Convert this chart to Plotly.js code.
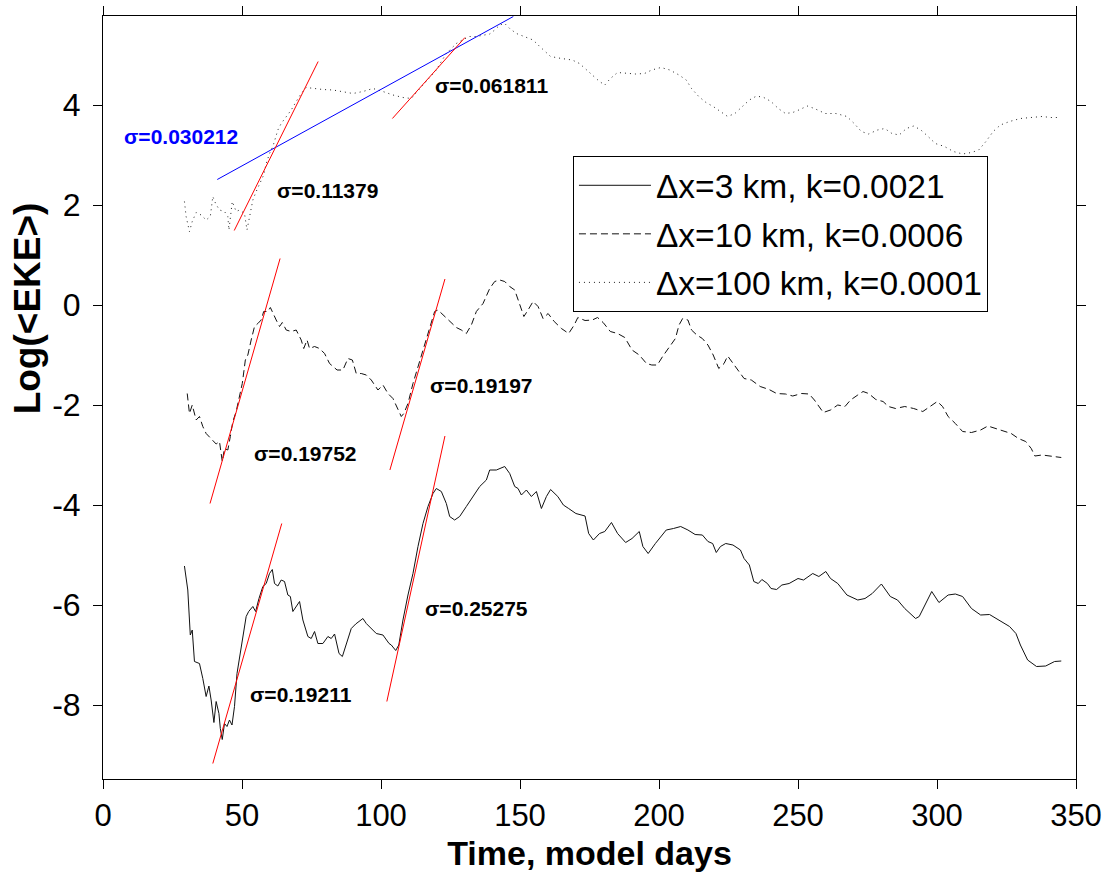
<!DOCTYPE html>
<html>
<head>
<meta charset="utf-8">
<script src="https://cdn.plot.ly/plotly-3.0.1.min.js"></script>
<style>html,body{margin:0;padding:0;background:#fff;}#chart{width:1106px;height:874px;}</style>
</head>
<body>
<div id="chart"></div>
<script>
// ---- data ----
const seriesNames = ['\u0394x=3 km, k=0.0021', '\u0394x=10 km, k=0.0006', '\u0394x=100 km, k=0.0001'];

const x3 = [29.3,30.5,31.4,32.1,32.9,34.7,35.9,37.1,38.1,38.9,39.9,40.7,41.7,42.2,42.9,43.7,44.6,45.5,46.4,47.3,48.2,49.7,51.5,52.4,53.9,54.9,56.1,57.5,58.7,59.9,60.9,61.7,62.9,64.1,65.3,66.5,67.4,68.3,69.5,70.7,71.9,73.7,74.9,76.1,77.3,79.1,80.9,82.1,83.3,84.9,86.1,87.5,89.3,90.9,92.1,93.5,94.7,96.5,98.3,100.7,102.9,103.7,105.3,106.4,107.9,109.7,111.5,113.3,115.1,116.9,118.7,119.9,121.7,123.5,124.7,126.5,128.3,130.7,133.1,135.5,137.9,139.1,141.5,144.5,146.3,148.1,149.3,150.5,152.3,154.1,155.9,157.7,159.5,161.0,163.6,165.6,167.5,170.1,173.4,174.7,176.4,178.6,180.5,182.9,185.1,188.0,190.3,192.9,194.2,196.1,198.7,202.6,205.2,207.8,210.4,213.0,215.6,217.6,219.3,220.6,222.1,224.0,226.6,229.3,230.6,232.5,234.1,235.7,237.0,239.0,240.3,242.3,244.2,246.8,250.0,252.0,255.3,257.5,260.0,261.7,264.3,267.6,271.5,274.1,276.7,280.0,283.2,285.8,288.4,290.3,292.3,293.6,296.2,298.1,300.7,304.0,306.6,309.2,312.4,315.7,318.9,322.2,326.1,328.4,330.0,332.6,335.8,339.1,342.3,344.7];
const y3 = [-5.22,-5.70,-6.60,-6.50,-7.13,-7.17,-7.47,-7.83,-7.62,-7.90,-8.35,-7.93,-8.17,-8.47,-8.69,-8.37,-8.43,-8.30,-8.40,-8.03,-7.37,-6.83,-6.23,-6.13,-6.03,-6.13,-5.87,-5.63,-5.57,-5.37,-5.29,-5.57,-5.62,-5.50,-5.53,-5.80,-5.83,-6.13,-6.03,-5.93,-6.30,-6.63,-6.67,-6.53,-6.77,-6.77,-6.63,-6.67,-6.58,-6.97,-7.03,-6.80,-6.47,-6.38,-6.33,-6.27,-6.37,-6.47,-6.57,-6.60,-6.77,-6.80,-6.91,-6.80,-6.30,-5.80,-5.37,-4.83,-4.37,-4.03,-3.77,-3.67,-3.73,-3.97,-4.23,-4.30,-4.23,-4.03,-3.83,-3.63,-3.50,-3.30,-3.30,-3.23,-3.37,-3.63,-3.67,-3.80,-3.70,-3.83,-3.73,-4.07,-3.83,-3.69,-3.83,-4.00,-4.07,-4.17,-4.22,-4.57,-4.70,-4.57,-4.53,-4.35,-4.57,-4.75,-4.67,-4.53,-4.83,-4.97,-4.77,-4.50,-4.47,-4.43,-4.50,-4.59,-4.60,-4.73,-4.77,-4.95,-4.83,-4.77,-4.80,-4.90,-5.07,-5.20,-5.53,-5.57,-5.49,-5.57,-5.67,-5.69,-5.60,-5.57,-5.47,-5.50,-5.37,-5.43,-5.33,-5.47,-5.57,-5.80,-5.90,-5.87,-5.77,-5.58,-5.83,-5.90,-6.07,-6.17,-6.27,-6.23,-5.93,-5.73,-5.95,-5.80,-5.78,-5.83,-6.07,-6.20,-6.19,-6.30,-6.43,-6.57,-6.80,-7.10,-7.23,-7.22,-7.13,-7.12];

const x10 = [30.3,31.1,32.1,33.5,34.7,35.9,37.1,38.9,40.7,41.9,42.9,43.7,44.9,45.8,46.7,47.9,48.9,50.1,51.2,52.1,53.3,54.5,55.7,56.9,57.8,59.3,60.2,61.1,62.3,63.5,64.5,65.9,67.7,69.5,71.3,72.2,73.4,74.3,76.1,77.9,79.7,81.5,84.2,86.3,88.1,89.7,91.1,92.9,94.7,96.5,98.9,100.7,102.5,104.3,106.1,107.3,108.2,109.7,111.5,113.3,114.5,116.3,118.1,119.3,120.5,122.3,124.1,125.9,127.1,128.9,130.7,132.5,134.3,136.7,139.1,140.9,142.7,144.5,146.3,148.1,149.9,151.4,152.9,154.7,156.5,158.3,160.1,162.3,164.9,167.5,169.5,170.8,173.4,176.0,177.9,179.9,182.5,185.1,187.7,190.3,192.9,195.5,197.4,199.4,201.3,203.3,205.9,207.2,208.5,210.4,211.7,213.6,215.6,217.6,219.5,221.5,223.4,224.7,226.6,228.6,230.6,233.2,236.4,239.6,242.3,245.5,248.1,251.3,254.0,255.9,259.1,261.7,264.3,266.9,268.9,271.5,273.4,275.4,278.0,280.6,282.5,285.1,288.4,291.6,294.9,297.5,300.1,302.0,304.0,306.6,309.2,312.4,315.7,318.3,320.9,324.1,326.7,329.3,331.9,333.9,335.2,337.8,340.4,342.3,344.7];
const y10 = [-1.77,-2.17,-2.00,-2.30,-2.23,-2.43,-2.57,-2.67,-2.78,-2.73,-3.13,-2.87,-2.90,-2.63,-2.33,-2.13,-1.87,-1.57,-1.10,-1.00,-0.70,-0.43,-0.37,-0.30,-0.13,-0.13,-0.05,-0.17,-0.30,-0.43,-0.35,-0.50,-0.53,-0.50,-0.70,-0.87,-0.70,-0.87,-0.83,-0.87,-0.97,-1.17,-1.30,-1.30,-1.07,-1.10,-1.37,-1.37,-1.40,-1.50,-1.70,-1.60,-1.77,-1.87,-2.07,-2.23,-2.17,-1.97,-1.57,-1.23,-1.03,-0.70,-0.33,-0.13,-0.10,-0.20,-0.30,-0.40,-0.45,-0.50,-0.57,-0.40,-0.13,0.03,0.33,0.47,0.50,0.47,0.37,0.30,0.03,-0.23,-0.10,0.07,-0.03,-0.27,-0.17,-0.33,-0.47,-0.57,-0.40,-0.25,-0.31,-0.30,-0.25,-0.35,-0.53,-0.57,-0.65,-0.90,-1.00,-1.17,-1.20,-1.20,-1.03,-0.87,-0.67,-0.40,-0.27,-0.30,-0.50,-0.60,-0.67,-0.80,-1.00,-1.27,-1.17,-1.02,-1.17,-1.33,-1.47,-1.50,-1.63,-1.69,-1.77,-1.78,-1.82,-1.77,-1.78,-1.90,-2.15,-2.10,-2.00,-2.03,-1.90,-1.80,-1.73,-1.77,-1.89,-1.93,-2.03,-2.07,-2.03,-2.07,-2.13,-2.03,-1.93,-2.03,-2.23,-2.37,-2.53,-2.55,-2.50,-2.42,-2.47,-2.53,-2.57,-2.67,-2.73,-2.87,-3.02,-3.00,-3.02,-3.03,-3.05];

const x100 = [29.3,29.9,31.1,32.1,33.5,35.3,37.1,38.6,39.5,40.5,41.9,43.7,44.9,45.3,46.5,47.9,49.1,50.9,51.8,52.7,53.9,55.1,56.3,57.8,58.7,59.9,61.1,62.9,64.1,65.9,67.7,69.5,71.3,73.1,75.5,79.1,82.7,86.3,89.9,93.5,97.1,100.7,104.3,107.9,110.9,112.7,115.1,117.5,119.9,121.7,123.5,125.3,127.1,129.5,131.9,134.3,136.7,139.1,140.9,142.7,144.5,146.3,148.7,151.7,154.7,157.1,161.0,164.9,168.8,171.4,174.0,176.6,178.6,180.5,182.5,185.1,188.3,191.6,194.8,197.4,200.7,203.9,207.2,209.8,211.7,214.3,216.9,219.5,222.1,224.7,227.3,229.9,232.5,235.1,237.7,240.3,242.9,245.5,248.1,250.7,253.3,255.9,259.8,263.7,267.6,270.2,272.8,275.4,278.6,281.2,283.8,286.4,289.0,291.6,294.2,296.8,299.4,302.7,305.9,309.2,312.4,315.0,317.6,320.2,322.8,326.1,330.0,333.8,337.8,341.0,344.3];
const y100 = [2.07,1.77,1.47,1.67,1.85,1.80,1.70,1.77,2.17,2.03,1.90,1.87,1.77,1.50,2.07,1.87,1.90,1.83,1.50,1.77,2.10,2.27,2.43,2.60,2.83,3.03,3.17,3.50,3.63,3.77,3.90,4.07,4.23,4.35,4.33,4.31,4.30,4.27,4.23,4.27,4.33,4.27,4.20,4.15,4.13,4.25,4.40,4.57,4.70,4.87,5.03,5.13,5.23,5.31,5.37,5.37,5.40,5.42,5.50,5.60,5.63,5.53,5.43,5.37,5.30,5.17,4.97,4.93,4.90,4.83,4.70,4.57,4.47,4.40,4.53,4.65,4.63,4.62,4.63,4.70,4.75,4.70,4.60,4.50,4.33,4.17,4.05,3.97,3.87,3.77,3.83,3.97,4.10,4.18,4.15,4.07,3.93,3.83,3.85,3.91,3.98,3.93,3.83,3.83,3.77,3.63,3.47,3.42,3.50,3.53,3.43,3.40,3.53,3.58,3.50,3.37,3.23,3.17,3.07,3.02,3.05,3.10,3.27,3.47,3.60,3.67,3.73,3.75,3.77,3.75,3.75];

// growth-rate fit segments (end points); first one is the blue fit
const fitX = [[41.1,147.6],[47.2,77.4],[104.1,130.2],[38.5,63.7],[103.2,123.0],[39.5,64.3],[102.1,123.0]];
const fitY = [[2.51,5.77],[1.49,4.87],[3.73,5.35],[-3.97,0.93],[-3.30,0.52],[-9.17,-4.37],[-7.93,-2.62]];
const fitLabels = ['\u03c3=0.030212','\u03c3=0.11379','\u03c3=0.061811','\u03c3=0.19752','\u03c3=0.19197','\u03c3=0.19211','\u03c3=0.25275'];
const fitLabelX = [27.9,80.6,139.9,72.7,136.3,71.2,134.2];
const fitLabelY = [3.38,2.30,4.40,-2.96,-1.60,-7.78,-6.06];

const xTickVals = [0,50,100,150,200,250,300,350];
const yTickVals = [-8,-6,-4,-2,0,2,4];
const yTickText = ['-8','-6','-4','-2','0','2','4'];
const xTitle = 'Time, model days';
const yTitle = 'Log(&lt;EKE&gt;)';

// ---- drawing ----
const FONT = 'Arial, "Liberation Sans", sans-serif';
const traces = [
  {x:x3, y:y3, name:seriesNames[0], mode:'lines', legendgroup:'a',
   line:{color:'#111', width:1, dash:'solid'}},
  {x:x10, y:y10, name:seriesNames[1], mode:'lines', legendgroup:'b',
   line:{color:'#111', width:1, dash:'7px,4px'}},
  {x:x100, y:y100, name:seriesNames[2], mode:'lines', legendgroup:'c',
   line:{color:'#222', width:1, dash:'1px,4px'}}
];
fitX.forEach((fx,i)=>{
  traces.push({x:fx, y:fitY[i], mode:'lines', showlegend:false, hoverinfo:'skip',
    line:{color: i===0 ? '#0000ff' : '#ff0000', width:1}});
});

const annotations = fitLabels.map((t,i)=>({
  x:fitLabelX[i], y:fitLabelY[i], xref:'x', yref:'y', text:t, showarrow:false,
  xanchor:'center', yanchor:'middle',
  font:{family:FONT, size:21, weight:'bold', color: i===0 ? '#0000ff' : '#000'}
}));
// y-axis title, placed where the reference puts it (centred near y = 0)
annotations.push({
  xref:'paper', yref:'paper', x:-0.078, y:0.617, text:yTitle, textangle:-90,
  showarrow:false, xanchor:'center', yanchor:'middle',
  font:{family:FONT, size:37, weight:'bold', color:'#000'}
});

const layout = {
  width:1106, height:874,
  margin:{l:103, r:30, t:16, b:95, pad:0},
  paper_bgcolor:'#fff', plot_bgcolor:'#fff',
  showlegend:true,
  legend:{x:0.483, y:0.8165, xanchor:'left', yanchor:'top',
    bgcolor:'#fff', bordercolor:'#000', borderwidth:1,
    font:{family:FONT, size:33.5, color:'#000'},
    tracegroupgap:2, itemwidth:72, traceorder:'grouped'},
  xaxis:{range:[0,350], tickvals:xTickVals, ticks:'outside', ticklen:9, tickcolor:'#000',
    showline:true, linecolor:'#000', linewidth:1, mirror:'ticks', showgrid:false, zeroline:false,
    tickfont:{family:FONT, size:31, color:'#000'},
    title:{text:xTitle, font:{family:FONT, size:34, weight:'bold', color:'#000'}, standoff:8}},
  yaxis:{range:[-9.48,5.78], tickvals:yTickVals, ticktext:yTickText, ticks:'outside', ticklen:9, tickcolor:'#000',
    showline:true, linecolor:'#000', linewidth:1, mirror:'ticks', showgrid:false, zeroline:false,
    ticklabelstandoff:6,
    tickfont:{family:FONT, size:32, color:'#000'}},
  annotations:annotations
};

Plotly.newPlot('chart', traces, layout, {staticPlot:true, displayModeBar:false});
</script>
</body>
</html>
